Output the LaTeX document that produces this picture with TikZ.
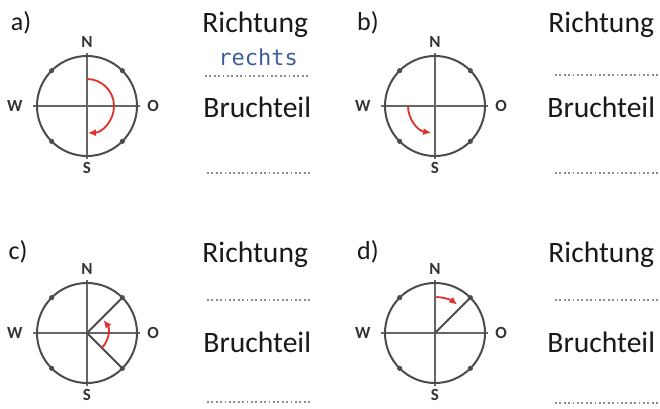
\documentclass[tikz,border=0pt]{standalone}
\usepackage{fontspec}
\setmainfont{Carlito}
\newfontfamily\handschrift{DejaVu Sans Mono}
\usetikzlibrary{arrows.meta,positioning}
\colorlet{kreis}{black!70}
\colorlet{achse}{black!60}
\definecolor{pfeil}{HTML}{E0302A}
\definecolor{stift}{HTML}{3D5E9E}
\tikzset{
  himmel/.style={font=\fontsize{8.5}{10}\selectfont\bfseries,text=black!80,inner sep=0pt},
  wort/.style={font=\fontsize{14.8}{17}\selectfont,text=black!90,anchor=base west,inner sep=0pt},
  buchst/.style={font=\fontsize{13}{15}\selectfont,text=black!90,inner sep=0pt},
  luecke/.style={draw=black!45,line width=0.6pt,dash pattern=on 0.9pt off 1.3pt},
  dreh/.style={draw=pfeil,line width=0.9pt,-{Latex[length=4pt,width=3.5pt]}}
}

\begin{document}
\begin{tikzpicture}[x=0.5pt,y=0.5pt]
	\useasboundingbox (0,0) rectangle (660,408);

	% vier Kompasse
	\foreach \k/\cx/\cy in {a/87/302, b/435/302, c/87/75, d/435/75}{
		\coordinate (k\k) at (\cx,\cy);
		\coordinate (k\k-n) at (\cx,\cy+53);
		\coordinate (k\k-s) at (\cx,\cy-53);
		\coordinate (k\k-w) at (\cx-54,\cy);
		\coordinate (k\k-o) at (\cx+53,\cy);
		\draw[achse,line width=1pt] (k\k-w) -- (k\k-o);
		\draw[achse,line width=1pt] (k\k-n) -- (k\k-s);
		\draw[kreis,line width=1pt] (k\k) circle[radius=50];
		\foreach \w in {45,135,225,315}
			\fill[kreis] (k\k) ++(\w:50) circle[radius=2.6];
		\node[himmel,above=2.5pt of k\k-n] (n\k) {N};
		\node[himmel,below=1.5pt of k\k-s] (s\k) {S};
		\node[himmel,left=5pt of k\k-w] (w\k) {W};
		\node[himmel,right=3.5pt of k\k-o] (o\k) {O};
	}

	% Strahlen
	\coordinate (rc1) at ([shift={(45:50)}]kc);
	\coordinate (rc2) at ([shift={(-45:50)}]kc);
	\coordinate (rd1) at ([shift={(45:50)}]kd);
	\draw[kreis,line width=1pt] (kc) -- (rc1);
	\draw[kreis,line width=1pt] (kc) -- (rc2);
	\draw[kreis,line width=1pt] (kd) -- (rd1);

	% Drehungen
	\draw[dreh] ([shift={(90:27)}]ka) arc[start angle=90,end angle=-88,radius=27];
	\draw[dreh] ([shift={(180:27)}]kb) arc[start angle=180,end angle=262,radius=27];
	\draw[dreh] ([shift={(-45:21)}]kc) arc[start angle=-45,end angle=38,radius=21];
	\draw[dreh] ([shift={(88:36)}]kd) arc[start angle=88,end angle=52,radius=36];

	% Aufgaben
	\node[buchst] (la) at (21,385) {a)};
	\node[buchst] (lb) at (368,385) {b)};
	\node[buchst] (lc) at (18,156) {c)};
	\node[buchst] (ld) at (368,156) {d)};

	\node[wort] (ra) at (202,375) {Richtung};
	\node[wort] (ba) at (203,290) {Bruchteil};
	\node[wort] (rb) at (548,375) {Richtung};
	\node[wort] (bb) at (547,290) {Bruchteil};
	\node[wort] (rc) at (202,146) {Richtung};
	\node[wort] (bc) at (203,55) {Bruchteil};
	\node[wort] (rd) at (548,146) {Richtung};
	\node[wort] (bd) at (547,55) {Bruchteil};

	\node[font=\fontsize{11}{13}\selectfont\handschrift,text=stift,anchor=base west,inner sep=0pt] (ant) at (218,343) {rechts};

	% Schreiblinien
	\foreach \x/\y in {205/332, 207/235, 555/333, 555/235, 207/108, 207/6, 555/108, 555/5}
		\draw[luecke] (\x,\y) -- ++(103,0);
\end{tikzpicture}
\end{document}
